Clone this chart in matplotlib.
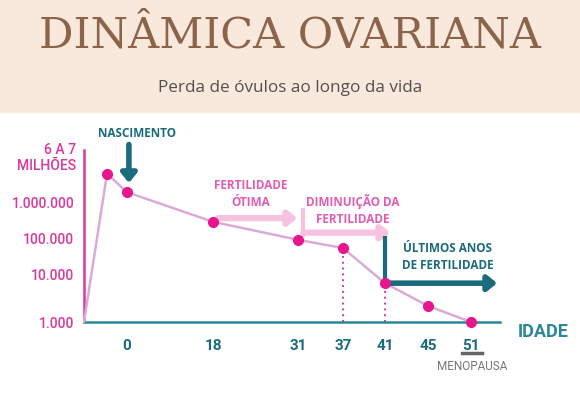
import numpy as np
import matplotlib
matplotlib.use('Agg')
import matplotlib.pyplot as plt
from matplotlib.patches import Rectangle

# Data: number of oocytes over a woman's life (log scale)
ages = [-0.75, -0.4, 0, 18, 31, 37, 41, 45, 51]
ovulos = [1000, 6.5e6, 2.0e6, 3.0e5, 9.5e4, 5.6e4, 6.7e3, 2.2e3, 1000]
tick_ages = [0, 18, 31, 37, 41, 45, 51]
tick_vals = [1e3, 1e4, 1e5, 1e6]
tick_labels = ['1.000', '10.000', '100.000', '1.000.000']

# colours
teal = '#1a6b7e'
teal_axis = '#2b8798'
magenta = '#d8399c'
pink_txt = '#e35cb3'
pink_light = '#f6c2df'
line_col = '#dcaad6'
dot_col = '#e8168c'
brown = '#8c6449'

# non-linear age axis (designer spacing), piecewise
age_bp = np.array([-0.75, -0.4, 0, 18, 31, 37, 41, 45, 51, 55])
pos_bp = np.array([84, 107, 127, 213, 298, 343, 385, 428, 471, 500], dtype=float)
def fwd_x(a):
    return np.interp(a, age_bp, pos_bp)
def inv_x(p):
    return np.interp(p, pos_bp, age_bp)

# y: log axis with a wider first decade
lv_bp = np.array([3, 4, 5, 6, 8])
py_bp = np.array([0, 47, 83, 119, 191], dtype=float)
def fwd_y(v):
    v = np.clip(np.asarray(v, dtype=float), 1e-3, None)
    return np.interp(np.log10(v), lv_bp, py_bp)
def inv_y(p):
    return 10 ** np.interp(p, py_bp, lv_bp)

fig = plt.figure(figsize=(5.8, 4.0), dpi=100)
fig.patches.append(Rectangle((0, 0.7175), 1, 0.2825, transform=fig.transFigure,
                             facecolor='#f8e9dc', edgecolor='none', zorder=0))

fig.text(0.5, 1 - 48/400, 'DINÂMICA OVARIANA', ha='center', va='baseline',
         family='DejaVu Serif', fontsize=31, color=brown)
fig.text(0.5, 0.78, 'Perda de óvulos ao longo da vida', ha='center', va='center',
         family='Open Sans', fontsize=12.3, color='#555050')

ax = fig.add_axes([84/580, 78/400, 416/580, 172/400])
ax.set_xscale('function', functions=(fwd_x, inv_x))
ax.set_yscale('function', functions=(fwd_y, inv_y))
ax.set_xlim(-0.75, 55)
ax.set_ylim(1000, inv_y(172))

ax.plot(ages, ovulos, color=line_col, lw=1.8, zorder=3, clip_on=False)
ax.plot(ages[1:], ovulos[1:], 'o', color=dot_col, ms=7, zorder=4, clip_on=False)

# dotted drops at 37 and 41
for a, v in zip(ages[5:7], ovulos[5:7]):
    ax.plot([a, a], [1000, v], ls=(0, (1, 2)), color=magenta, lw=1.4, zorder=2)

for s in ['top', 'right']:
    ax.spines[s].set_visible(False)
ax.spines['left'].set_color(magenta)
ax.spines['left'].set_linewidth(1.8)
ax.spines['bottom'].set_color(teal_axis)
ax.spines['bottom'].set_linewidth(1.8)

ax.set_xticks(tick_ages)
ax.set_xticklabels([str(a) for a in tick_ages], family='Roboto', fontweight='bold',
                   fontsize=11, color=teal)
ax.set_yticks(tick_vals)
ax.set_yticklabels(tick_labels, family='Roboto', fontweight='medium', fontsize=10,
                   color=magenta)
ax.tick_params(axis='x', length=0, pad=12)
ax.tick_params(axis='y', length=0, pad=7)
ax.minorticks_off()

fig.text(76/580, 1 - 158/400, '6 A 7\nMILHÕES', ha='right', va='center',
         family='Roboto', fontweight='medium', fontsize=10, color=magenta,
         linespacing=1.1)

lbl = dict(family='Open Sans', fontweight='bold', fontsize=8.5, ha='center',
           va='center', linespacing=1.45, clip_on=False)

# nascimento
ax.text(2.1, 8.5e7, 'NASCIMENTO', color=teal, **lbl)
ax.annotate('', xy=(0.4, 3.6e6), xytext=(0.4, 4.2e7), annotation_clip=False,
            arrowprops=dict(arrowstyle='-|>,head_width=0.45,head_length=0.55',
                            color=teal, lw=4, shrinkA=0, shrinkB=0))

# fertilidade otima
ax.text(23.8, 1.8e6, 'FERTILIDADE\nÓTIMA', color=pink_txt, **lbl)
ax.annotate('', xy=(30.9, 3.8e5), xytext=(18.8, 3.8e5), annotation_clip=False,
            arrowprops=dict(arrowstyle='-|>,head_width=0.4,head_length=0.5',
                            color=pink_light, lw=4.5, shrinkA=0, shrinkB=0))
ax.plot([31.7, 31.7], [7.2e5, 1.15e5], color=pink_light, lw=3, solid_capstyle='butt')

# diminuicao da fertilidade
ax.text(37.9, 6.4e5, 'DIMINUIÇÃO DA\nFERTILIDADE', color=pink_txt, **lbl)
ax.annotate('', xy=(41.5, 1.5e5), xytext=(31.7, 1.5e5), annotation_clip=False,
            arrowprops=dict(arrowstyle='-|>,head_width=0.4,head_length=0.5',
                            color=pink_light, lw=4.5, shrinkA=0, shrinkB=0))

# ultimos anos de fertilidade
ax.plot([41, 41], [1.2e5, 6.7e3], color=teal, lw=3, solid_capstyle='butt', zorder=3)
ax.annotate('', xy=(54.6, 6.7e3), xytext=(41, 6.7e3), annotation_clip=False,
            arrowprops=dict(arrowstyle='-|>,head_width=0.45,head_length=0.55',
                            color=teal, lw=4, shrinkA=0, shrinkB=0))
ax.text(47.7, 3.2e4, 'ÚLTIMOS ANOS\nDE FERTILIDADE', color=teal, **lbl)

fig.text(543/580, 1 - 332/400, 'IDADE', ha='center', va='center', family='Roboto',
         fontweight='bold', fontsize=13, color=teal_axis)

# menopausa
fig.text(472/580, 1 - 367/400, 'MENOPAUSA', ha='center', va='center', family='Roboto',
         fontsize=8.5, color='#777777')
fig.lines.append(plt.Line2D([462/580, 482/580], [1 - 353/400, 1 - 353/400],
                            transform=fig.transFigure, color='#666666', lw=2.5))

fig.savefig('out.png', dpi=100)
